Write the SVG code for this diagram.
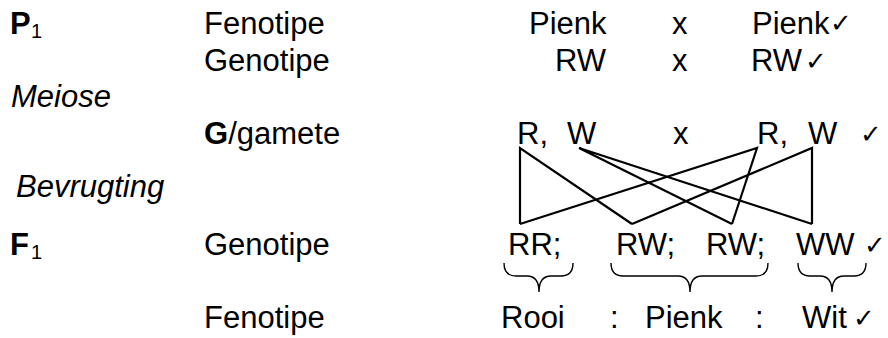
<svg xmlns="http://www.w3.org/2000/svg" width="888" height="338" viewBox="0 0 888 338">
<style>
text{font-family:"Liberation Sans",Arial,sans-serif;font-size:31px;fill:#000}
.b{font-weight:bold}
.i{font-style:italic}
.sub{font-size:20px;font-weight:normal}
.ck{font-family:"DejaVu Sans",sans-serif;font-size:26px;font-weight:200}
.ln{stroke:#000;stroke-width:2.2;fill:none;stroke-linejoin:miter}
.br{stroke:#000;stroke-width:1.4;fill:none}
</style>
<rect width="888" height="338" fill="#fff"/>
<g id="labels">
<text class="b" x="10" y="34">P<tspan class="sub" x="31" y="38">1</tspan></text>
<text class="i" x="11" y="107">Meiose</text>
<text class="i" x="16" y="197">Bevrugting</text>
<text class="b" x="10" y="255">F<tspan class="sub" x="31" y="259">1</tspan></text>
<text x="204" y="34">Fenotipe</text>
<text x="204" y="71">Genotipe</text>
<text x="204" y="144"><tspan class="b">G</tspan>/gamete</text>
<text x="204" y="255">Genotipe</text>
<text x="204" y="328">Fenotipe</text>
</g>
<g id="p1">
<text x="529" y="34">Pienk</text>
<text x="672" y="34">x</text>
<text x="752" y="34">Pienk</text>
<text class="ck" x="830" y="32">✓</text>
<text x="555" y="71">RW</text>
<text x="672" y="71">x</text>
<text x="751" y="71">RW</text>
<text class="ck" x="805" y="70">✓</text>
</g>
<g id="gametes">
<text x="517" y="144">R,</text>
<text x="567" y="144">W</text>
<text x="673" y="144">x</text>
<text x="757" y="144">R,</text>
<text x="808" y="144">W</text>
<text class="ck" x="860" y="143">✓</text>
</g>
<g id="connectors">
<polyline class="ln" points="520,224 520,148 632,224"/>
<polyline class="ln" points="732,224 579,148 812,224"/>
<polyline class="ln" points="520,224 757,148 732,224"/>
<polyline class="ln" points="632,224 812,148 812,224"/>
</g>
<g id="f1">
<text x="508" y="255">RR;</text>
<text x="616" y="255">RW;</text>
<text x="706" y="255">RW;</text>
<text x="796" y="255">WW</text>
<text class="ck" x="864" y="254">✓</text>
</g>
<g id="braces">
<path class="br" d="M504,263 Q504,276 516,276 L527,276 Q539,276 539,292 Q539,276 551,276 L561,276 Q573,276 573,263"/>
<path class="br" d="M611,263 Q611,276 623,276 L678,276 Q690,276 690,292 Q690,276 702,276 L756,276 Q768,276 768,263"/>
<path class="br" d="M798,263 Q798,276 810,276 L820,276 Q832,276 832,292 Q832,276 844,276 L854,276 Q866,276 866,263"/>
</g>
<g id="fenotipe">
<text x="501" y="328">Rooi</text>
<text x="610" y="328">:</text>
<text x="645" y="328">Pienk</text>
<text x="755" y="328">:</text>
<text x="802" y="328">Wit</text>
<text class="ck" x="853" y="327">✓</text>
</g>
</svg>
